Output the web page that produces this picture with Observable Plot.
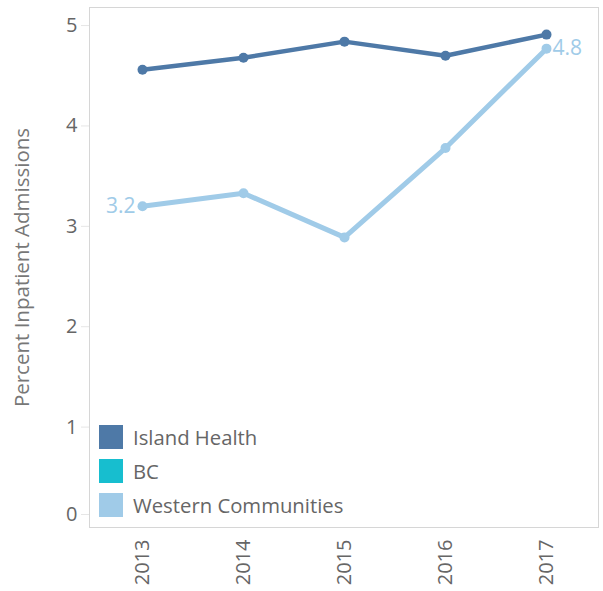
<!DOCTYPE html>
<html>
<head>
<meta charset="utf-8">
<script src="https://cdn.jsdelivr.net/npm/d3@7"></script>
<script src="https://cdn.jsdelivr.net/npm/@observablehq/plot@0.6"></script>
<style>
  html, body { margin: 0; padding: 0; background: #fff; }
  #wrap { position: relative; width: 603px; height: 591px; font-family: "Open Sans", sans-serif; }
  #legend { position: absolute; left: 99px; top: 420px; }
  .row { display: flex; align-items: center; height: 34px; }
  .sw { width: 24px; height: 24px; margin-right: 10px; }
  .lab { font-size: 20.3px; color: #666; }
</style>
</head>
<body>
<div id="wrap"></div>
<script>
const years = ["2013", "2014", "2015", "2016", "2017"];
const islandHealth = [4.56, 4.68, 4.84, 4.70, 4.91];
const westernCommunities = [3.20, 3.33, 2.89, 3.78, 4.77];
const seriesNames = ["Island Health", "BC", "Western Communities"];
const seriesColors = ["#4e79a7", "#17becf", "#a0cbe8"];
const yTicks = [0, 1, 2, 3, 4, 5];
const yTitle = "Percent Inpatient Admissions";

const ih = years.map((y, i) => ({year: y, value: islandHealth[i]}));
const wc = years.map((y, i) => ({year: y, value: westernCommunities[i]}));
const wcEnds = [
  {year: years[0], value: westernCommunities[0], label: "3.2", side: "start"},
  {year: years[4], value: westernCommunities[4], label: "4.8", side: "end"}
];

const font = "'Open Sans', sans-serif";
const chart = Plot.plot({
  width: 603,
  height: 591,
  marginLeft: 89,
  marginRight: 5,
  marginTop: 7,
  marginBottom: 64,
  style: {fontFamily: font, fontSize: "20px", color: "#666", background: "#fff"},
  x: {type: "point", domain: years, padding: 0.5},
  y: {domain: [0, 5.18]},
  marks: [
    Plot.frame({stroke: "#d6d6d6"}),
    Plot.axisY(yTicks.filter(d => d > 0), {tickSize: 8, tickPadding: 4, tickFormat: d3.format("d"), stroke: "#e6e6e6", fill: "#666", fontSize: 20, label: null}),
    Plot.axisY([0], {tickSize: 8, tickPadding: 4, tickFormat: d3.format("d"), stroke: "#e6e6e6", fill: "#666", fontSize: 20, label: null, dy: -13}),
    Plot.axisX({tickSize: 0, tickPadding: 12, tickRotate: -90, fill: "#666", fontSize: 20, label: null}),
    Plot.text([yTitle], {frameAnchor: "left", textAnchor: "middle", dx: -67, rotate: -90, text: d => d, fill: "#777", fontSize: 20.5}),
    Plot.line(wc, {x: "year", y: "value", stroke: seriesColors[2], strokeWidth: 5}),
    Plot.dot(wc, {x: "year", y: "value", fill: seriesColors[2], r: 5}),
    Plot.line(ih, {x: "year", y: "value", stroke: seriesColors[0], strokeWidth: 4.5}),
    Plot.dot(ih, {x: "year", y: "value", fill: seriesColors[0], r: 5}),
    Plot.text(wcEnds.filter(d => d.side === "start"), {x: "year", y: "value", text: "label", textAnchor: "end", dx: -7, fill: seriesColors[2], fontSize: 21}),
    Plot.text(wcEnds.filter(d => d.side === "end"), {x: "year", y: "value", text: "label", textAnchor: "start", dx: 6, fill: seriesColors[2], fontSize: 21})
  ]
});

const wrap = document.getElementById("wrap");
wrap.appendChild(chart);
const legend = document.createElement("div");
legend.id = "legend";
seriesNames.forEach((name, i) => {
  const row = document.createElement("div");
  row.className = "row";
  const sw = document.createElement("div");
  sw.className = "sw";
  sw.style.background = seriesColors[i];
  const lab = document.createElement("span");
  lab.className = "lab";
  lab.textContent = name;
  row.appendChild(sw);
  row.appendChild(lab);
  legend.appendChild(row);
});
wrap.appendChild(legend);
</script>
</body>
</html>
